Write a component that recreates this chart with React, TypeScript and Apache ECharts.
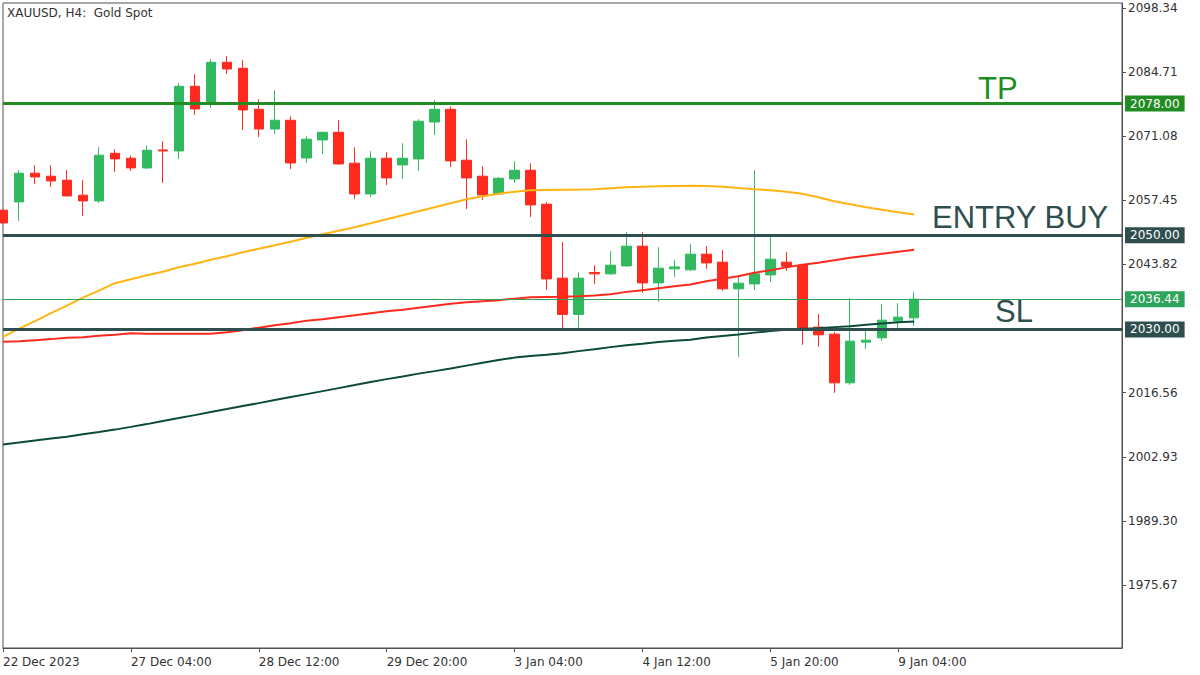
import React, { useEffect, useRef } from "react";
import * as echarts from "echarts";

// ---- data (XAUUSD H4) ----
const tickLabels = ["22 Dec 2023", "27 Dec 04:00", "28 Dec 12:00", "29 Dec 20:00", "3 Jan 04:00", "4 Jan 12:00", "5 Jan 20:00", "9 Jan 04:00"];
const slotCount = 71;
const labelEvery = 8;

const opens = [2055.34, 2057.10, 2063.19, 2062.56, 2061.71, 2058.52, 2057.31, 2067.44, 2066.38, 2064.32, 2068.14, 2067.93, 2081.67, 2078.00, 2086.77, 2085.50, 2076.79, 2072.60, 2074.45, 2066.44, 2070.27, 2071.90, 2065.32, 2058.80, 2066.38, 2064.96, 2066.23, 2074.09, 2076.79, 2065.96, 2062.56, 2058.80, 2061.98, 2063.83, 2056.61, 2040.89, 2033.18, 2042.10, 2041.81, 2043.50, 2047.69, 2039.89, 2042.87, 2042.66, 2045.99, 2044.29, 2038.62, 2039.68, 2041.59, 2044.29, 2043.65, 2030.49, 2029.00, 2018.65, 2027.30, 2028.21, 2031.82, 2032.46];
const closes = [2052.64, 2063.19, 2062.41, 2061.56, 2058.37, 2057.31, 2067.02, 2066.23, 2064.32, 2068.08, 2067.93, 2081.67, 2076.85, 2086.77, 2085.35, 2076.64, 2072.60, 2074.45, 2065.38, 2070.42, 2071.90, 2065.17, 2058.80, 2066.38, 2062.20, 2066.38, 2074.24, 2076.79, 2065.81, 2062.20, 2058.59, 2062.13, 2063.83, 2056.46, 2040.74, 2033.18, 2040.89, 2041.81, 2043.65, 2047.69, 2039.89, 2043.02, 2043.29, 2045.99, 2044.14, 2038.62, 2039.83, 2041.81, 2044.93, 2043.44, 2030.21, 2028.85, 2018.65, 2027.51, 2027.72, 2031.97, 2032.61, 2036.44];
const lows = [2052.30, 2053.06, 2060.86, 2060.29, 2058.31, 2054.13, 2056.89, 2063.47, 2063.68, 2064.11, 2061.13, 2066.23, 2075.58, 2077.07, 2084.29, 2072.39, 2070.90, 2071.54, 2064.11, 2065.38, 2067.29, 2064.96, 2057.74, 2058.16, 2060.71, 2061.98, 2063.68, 2071.33, 2064.53, 2055.61, 2057.52, 2058.59, 2061.13, 2053.91, 2038.41, 2030.34, 2030.34, 2039.68, 2041.60, 2043.29, 2037.77, 2035.86, 2041.17, 2042.44, 2042.87, 2038.20, 2024.18, 2038.41, 2040.11, 2042.44, 2026.73, 2026.30, 2016.53, 2018.23, 2025.88, 2027.58, 2030.34, 2030.76];
const highs = [2055.60, 2063.83, 2064.89, 2064.89, 2063.83, 2061.71, 2068.72, 2068.29, 2066.95, 2069.14, 2069.99, 2082.31, 2084.22, 2087.41, 2088.05, 2087.20, 2078.91, 2080.82, 2075.30, 2071.05, 2072.01, 2074.45, 2068.72, 2067.87, 2067.66, 2069.57, 2074.66, 2078.70, 2077.43, 2070.42, 2064.68, 2062.35, 2065.74, 2065.32, 2057.04, 2048.54, 2042.17, 2043.65, 2046.63, 2050.66, 2050.66, 2047.48, 2044.72, 2048.11, 2047.69, 2046.84, 2041.53, 2063.83, 2049.60, 2046.42, 2043.80, 2033.25, 2029.42, 2036.64, 2029.64, 2035.37, 2035.58, 2037.92];

const maOrange = [2028.42, 2030.17, 2031.76, 2033.46, 2035.05, 2036.75, 2038.24, 2039.83, 2040.68, 2041.53, 2042.27, 2043.23, 2043.97, 2044.82, 2045.57, 2046.42, 2047.16, 2047.90, 2048.65, 2049.49, 2050.24, 2050.98, 2051.73, 2052.57, 2053.42, 2054.27, 2055.12, 2055.97, 2056.82, 2057.67, 2058.31, 2058.84, 2059.27, 2059.58, 2059.63, 2059.67, 2059.71, 2059.80, 2060.01, 2060.22, 2060.33, 2060.43, 2060.50, 2060.54, 2060.48, 2060.33, 2060.05, 2059.80, 2059.58, 2059.27, 2058.84, 2058.10, 2057.25, 2056.61, 2055.97, 2055.44, 2054.91, 2054.42];
const maRed = [2027.36, 2027.51, 2027.72, 2027.94, 2028.21, 2028.36, 2028.64, 2028.89, 2029.21, 2029.10, 2029.06, 2029.06, 2029.06, 2029.06, 2029.42, 2029.85, 2030.38, 2030.91, 2031.33, 2031.87, 2032.18, 2032.61, 2033.03, 2033.46, 2033.88, 2034.20, 2034.63, 2035.05, 2035.48, 2035.80, 2036.01, 2036.22, 2036.54, 2036.86, 2036.90, 2036.94, 2037.07, 2037.22, 2037.49, 2037.98, 2038.34, 2038.77, 2039.19, 2039.55, 2040.26, 2040.79, 2041.32, 2042.06, 2042.59, 2043.19, 2043.76, 2044.18, 2044.72, 2045.25, 2045.67, 2046.10, 2046.52, 2046.95];
const maDark = [2005.57, 2005.95, 2006.38, 2006.80, 2007.19, 2007.72, 2008.18, 2008.71, 2009.29, 2009.88, 2010.56, 2011.16, 2011.79, 2012.47, 2013.07, 2013.71, 2014.34, 2014.98, 2015.62, 2016.25, 2016.89, 2017.53, 2018.17, 2018.85, 2019.44, 2020.01, 2020.61, 2021.14, 2021.71, 2022.31, 2022.90, 2023.48, 2024.01, 2024.37, 2024.64, 2024.96, 2025.39, 2025.81, 2026.24, 2026.66, 2026.98, 2027.34, 2027.62, 2027.79, 2028.30, 2028.62, 2028.93, 2029.32, 2029.64, 2029.95, 2030.17, 2030.27, 2030.49, 2030.70, 2031.02, 2031.27, 2031.50, 2031.70];

const priceTicks = [2098.34, 2084.71, 2071.08, 2057.45, 2043.82, 2016.56, 2002.93, 1989.30, 1975.67];
const yMin = 1962.3;
const yMax = 2099.37;

const tpLevel = 2078;
const entryLevel = 2050;
const slLevel = 2030;

const GREEN = "#30B95E";
const RED = "#FF2A1E";
const SLATE = "#2F4F4F";
const TPGREEN = "#228B22";
const FONT = "DejaVu Sans";

export default function App() {
  const ref = useRef<HTMLDivElement>(null);

  useEffect(() => {
    if (!ref.current) return;
    const chart = echarts.init(ref.current, undefined, { renderer: "svg" });

    const categories: string[] = [];
    for (let i = 0; i < slotCount; i++) {
      const k = i / labelEvery;
      categories.push(i % labelEvery === 0 && k < tickLabels.length ? tickLabels[k] : "");
    }
    const candles = opens.map((o, i) => [o, closes[i], lows[i], highs[i]]);
    const lastClose = closes[closes.length - 1];

    const lvlLabel = (bg: string) => ({
      show: true,
      position: "end",
      distance: 3,
      formatter: (p: any) => Number(p.value).toFixed(2),
      color: "#ffffff",
      backgroundColor: bg,
      padding: [2, 5, 2, 5],
      fontFamily: FONT,
      fontSize: 12,
      lineHeight: 12,
    });

    const showIf = (_i: number, v: string) => v !== "";

    chart.setOption({
      animation: false,
      backgroundColor: "#ffffff",
      grid: {
        left: 3,
        right: 78,
        top: 3,
        bottom: 27,
        show: true,
        borderColor: "#505050",
        borderWidth: 1,
        backgroundColor: "transparent",
      },
      xAxis: {
        type: "category",
        data: categories,
        boundaryGap: false,
        axisLine: { show: true, lineStyle: { color: "#505050", width: 1 } },
        axisTick: { show: true, length: 4, interval: showIf, lineStyle: { color: "#505050" } },
        axisLabel: {
          interval: showIf,
          align: "left",
          margin: 8,
          color: "#333333",
          fontFamily: FONT,
          fontSize: 12,
        },
        splitLine: { show: false },
      },
      yAxis: {
        type: "value",
        position: "right",
        min: yMin,
        max: yMax,
        scale: true,
        axisLine: { show: true, lineStyle: { color: "#505050", width: 1 } },
        axisTick: { show: true, length: 4, customValues: priceTicks, lineStyle: { color: "#505050" } },
        axisLabel: {
          customValues: priceTicks,
          formatter: (v: number) => v.toFixed(2),
          margin: 6,
          color: "#333333",
          fontFamily: FONT,
          fontSize: 12,
        },
        splitLine: { show: false },
      },
      series: [
        {
          type: "candlestick",
          data: candles,
          barWidth: 10,
          clip: true,
          itemStyle: {
            color: GREEN,
            color0: RED,
            borderColor: GREEN,
            borderColor0: RED,
            borderWidth: 1,
          },
          markLine: {
            silent: true,
            symbol: ["none", "none"],
            animation: false,
            data: [
              { yAxis: tpLevel, lineStyle: { color: TPGREEN, width: 3, type: "solid" }, label: lvlLabel(TPGREEN) },
              { yAxis: entryLevel, lineStyle: { color: SLATE, width: 3, type: "solid" }, label: lvlLabel(SLATE) },
              { yAxis: lastClose, lineStyle: { color: "#2EA35A", width: 1, type: "solid" }, label: lvlLabel("#2EA35A") },
              { yAxis: slLevel, lineStyle: { color: SLATE, width: 3, type: "solid" }, label: lvlLabel(SLATE) },
            ],
          },
        },
        {
          type: "line",
          data: maOrange,
          showSymbol: false,
          symbol: "none",
          lineStyle: { color: "#FFB414", width: 2 },
          z: 3,
        },
        {
          type: "line",
          data: maRed,
          showSymbol: false,
          symbol: "none",
          lineStyle: { color: "#FF2A1E", width: 2 },
          z: 3,
        },
        {
          type: "line",
          data: maDark,
          showSymbol: false,
          symbol: "none",
          lineStyle: { color: "#0B4A3B", width: 2 },
          z: 3,
        },
      ],
      graphic: [
        {
          type: "text",
          left: 7,
          top: 7,
          style: { text: "XAUUSD, H4:  Gold Spot", fill: "#333333", font: `12px "${FONT}"` },
        },
        {
          type: "text",
          x: 978,
          y: 88.5,
          style: { text: "TP", fill: TPGREEN, font: '31px "Liberation Sans"', verticalAlign: "middle" },
        },
        {
          type: "text",
          x: 932,
          y: 217.5,
          style: { text: "ENTRY BUY", fill: SLATE, font: '31px "Liberation Sans"', verticalAlign: "middle" },
        },
        {
          type: "text",
          x: 995,
          y: 311.5,
          style: { text: "SL", fill: SLATE, font: '31px "Liberation Sans"', verticalAlign: "middle" },
        },
      ],
    });

    return () => chart.dispose();
  }, []);

  return (
    <div
      ref={ref}
      style={{ position: "fixed", left: 0, top: 0, width: 1200, height: 675, background: "#fff" }}
    />
  );
}
